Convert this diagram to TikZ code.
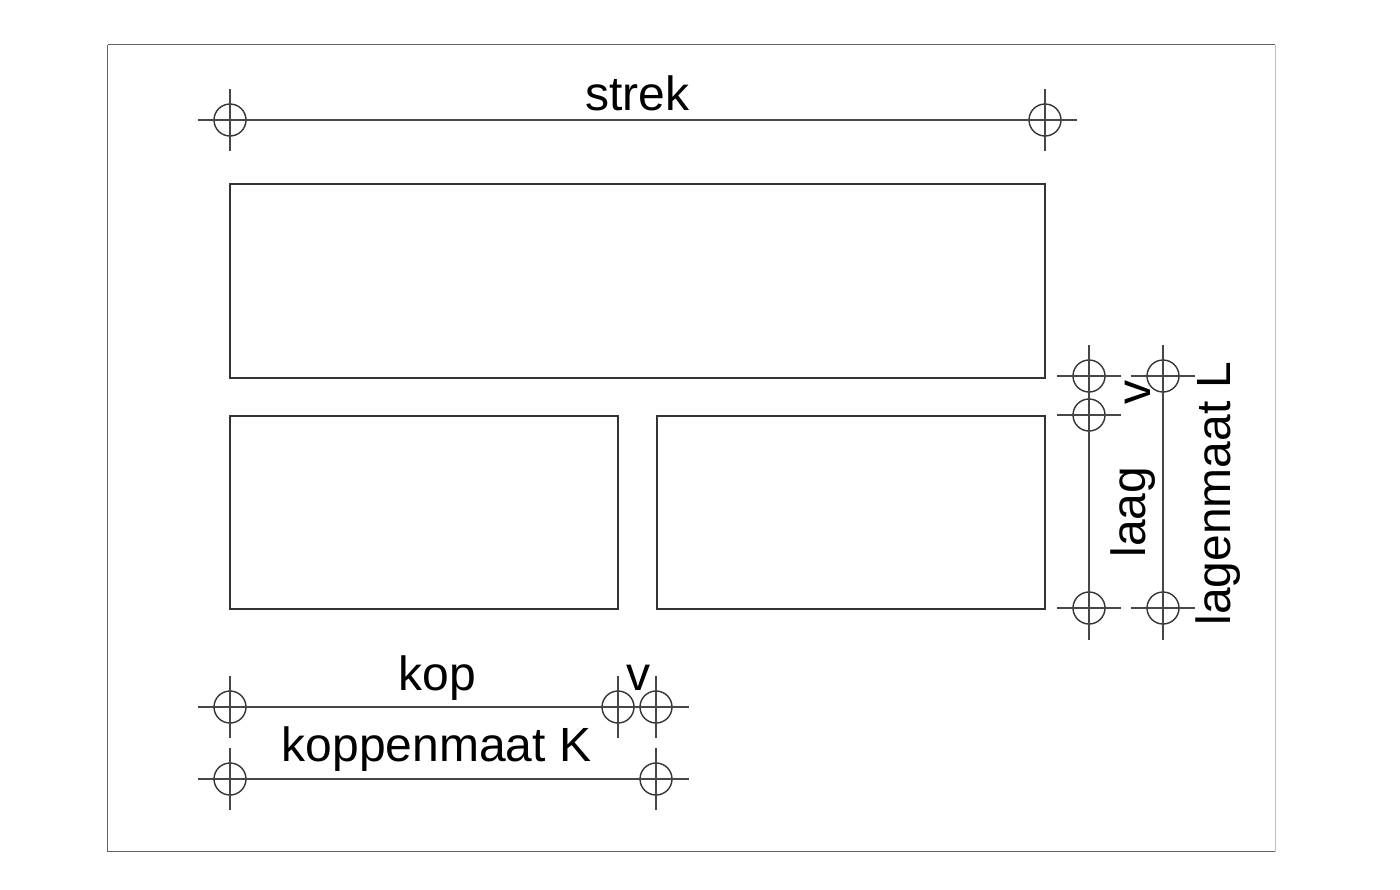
\documentclass[tikz,border=0pt]{standalone}
\usepackage{fontspec}
\setmainfont{Liberation Sans}
\definecolor{ink}{gray}{0.2}
\tikzset{
  brick/.style={draw=ink,line width=1.1pt},
  dimline/.style={draw=ink!90,line width=0.75pt},
  ringmark/.style={circle,draw=ink,line width=0.7pt,minimum size=16pt,inner sep=0pt},
  lbl/.style={anchor=base,inner sep=0pt,font=\fontsize{24}{28}\selectfont,text=black},
  vlbl/.style={lbl,rotate=90}
}
\begin{document}
\begin{tikzpicture}[x=0.5pt,y=-0.5pt]
\useasboundingbox (0,0) rectangle (1400,889);
\fill[white] (0,0) rectangle (1400,889);
\draw[draw=black!62,line width=0.7pt] (107.5,44.5) -- (1275,44.5);
\draw[draw=black!62,line width=0.7pt] (107.5,44.5) -- (107.5,851.5) -- (1275,851.5);
\draw[draw=black!25,line width=0.5pt] (1275,44.5) -- (1275,851.5);
% bricks
\node[brick,minimum width=407.5pt,minimum height=97pt,inner sep=0pt,anchor=north west] (strekbrick) at (229,182.5) {};
\node[brick,minimum width=194pt,minimum height=96.5pt,inner sep=0pt,anchor=north west] (kopa) at (229,415) {};
\node[brick,minimum width=194pt,minimum height=96.5pt,inner sep=0pt,anchor=north west] (kopb) at (656,415) {};
% marks
\foreach \n/\x/\y in {s1/230/120,s2/1045/120,k1/230/707,k2/618/707,k3/656/707,m1/230/779,m2/656/779,
  a1/1089/376,a2/1089/415,a3/1089/608,b1/1163/376,b3/1163/608}{
  \node[ringmark] (\n) at (\x,\y) {};
}
% free ends
\coordinate (sl) at (198,120); \coordinate (sr) at (1077,120);
\coordinate (kl) at (198,707); \coordinate (kr) at (689,707);
\coordinate (ml) at (198,779); \coordinate (mr) at (689,779);
\coordinate (at) at (1089,345); \coordinate (ab) at (1089,640);
\coordinate (bt) at (1163,345); \coordinate (bb) at (1163,640);
\draw[dimline] (sl) -- (sr);
\draw[dimline] (kl) -- (kr);
\draw[dimline] (ml) -- (mr);
\draw[dimline] (at) -- (ab);
\draw[dimline] (bt) -- (bb);
% ticks through the marks
\foreach \n in {s1,s2}{\draw[dimline] ([yshift=15.5pt]\n.center) -- ([yshift=-15.5pt]\n.center);}
\foreach \n in {k1,k2,k3}{\draw[dimline] ([yshift=15.5pt]\n.center) -- ([yshift=-15.5pt]\n.center);}
\foreach \n in {m1,m2}{\draw[dimline] ([yshift=15.5pt]\n.center) -- ([yshift=-15.5pt]\n.center);}
\foreach \n in {a1,a2,a3,b1,b3}{\draw[dimline] ([xshift=-16pt]\n.center) -- ([xshift=16pt]\n.center);}
% labels
\node[lbl] (tstrek) at (637,110) {strek};
\node[lbl] (tkop) at (437,690) {kop};
\node[lbl] (tv1) at (638,690) {v};
\node[lbl] (tkm) at (436.5,761) {koppenmaat K};
\node[vlbl] (tv2) at (1150,392.5) {v};
\node[vlbl] (tlaag) at (1145,512) {laag};
\node[vlbl] (tlm) at (1230,493.5) {lagenmaat L};
\end{tikzpicture}
\end{document}
